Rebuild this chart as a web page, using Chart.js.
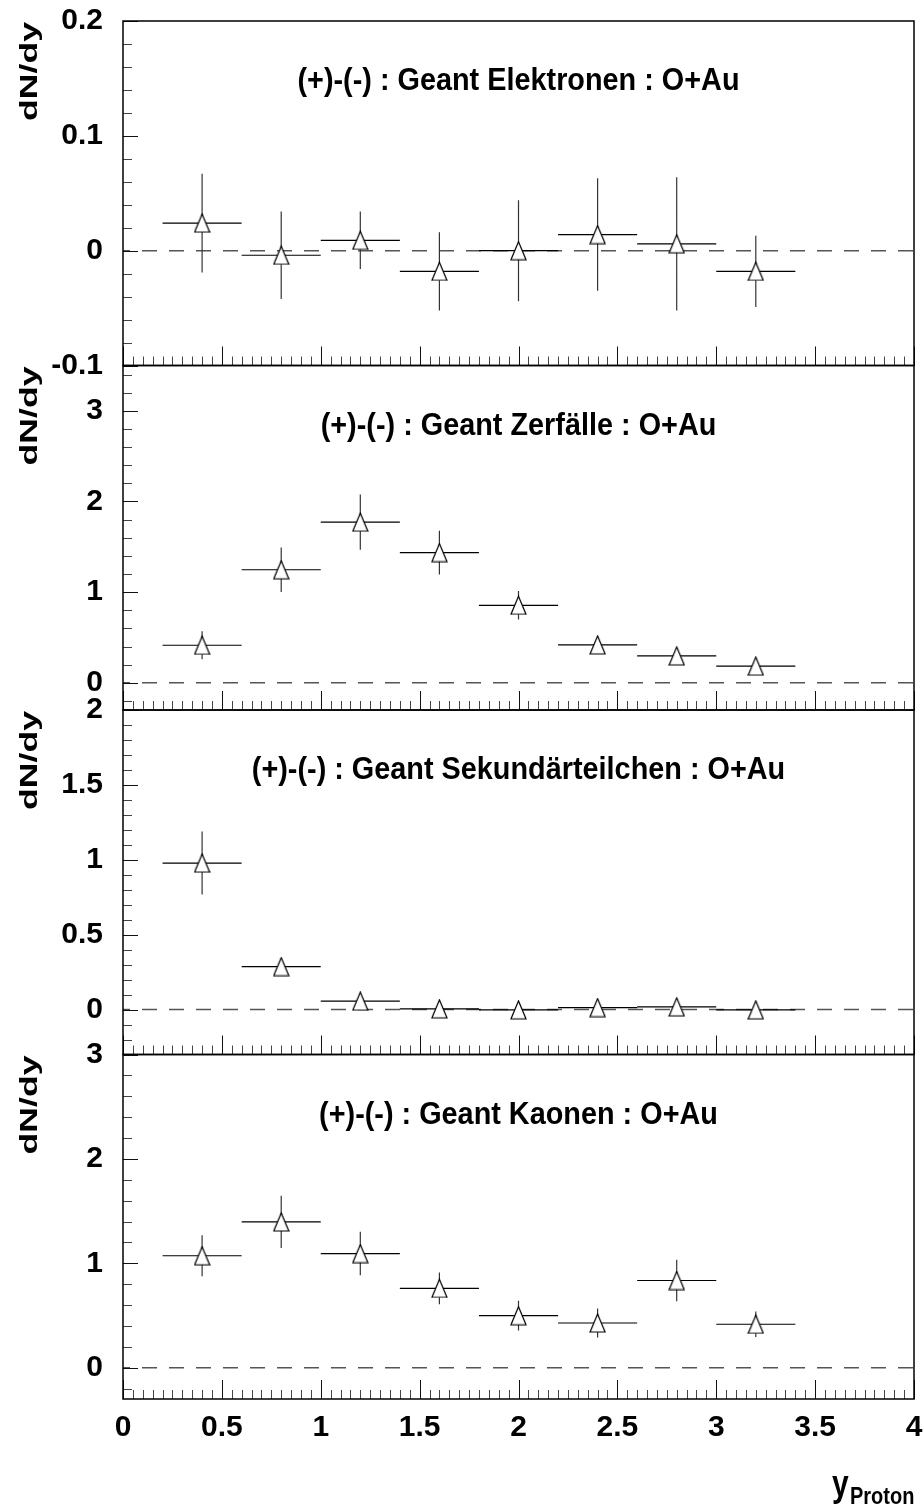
<!DOCTYPE html>
<html>
<head>
<meta charset="utf-8">
<script src="https://cdn.jsdelivr.net/npm/chart.js@4.4.1/dist/chart.umd.min.js"></script>
<style>
  html, body { margin: 0; padding: 0; background: #fff; overflow: hidden; }
  #wrap { position: relative; width: 924px; height: 1510px; }
  #wrap canvas { position: absolute; left: 0; top: 0; }
</style>
</head>
<body>
<div id="wrap">
  <canvas id="c1" width="924" height="1510"></canvas>
  <canvas id="c2" width="924" height="1510"></canvas>
  <canvas id="c3" width="924" height="1510"></canvas>
  <canvas id="c4" width="924" height="1510"></canvas>
</div>
<script>
// rapidity bins (centres), half bin width
var yBins = [0.4, 0.8, 1.2, 1.6, 2.0, 2.4, 2.8, 3.2];
var binHalf = 0.2;

// Geant Elektronen
var elekVal = [0.024, -0.004, 0.009, -0.018, 0.000, 0.014, 0.006, -0.018];
var elekErr = [0.043, 0.038, 0.025, 0.034, 0.044, 0.049, 0.058, 0.031];
// Geant Zerfaelle
var zerfVal = [0.414, 1.247, 1.772, 1.436, 0.855, 0.418, 0.297, 0.184];
var zerfErr = [0.155, 0.245, 0.305, 0.240, 0.157, 0.07, 0.06, 0.05];
// Geant Sekundaerteilchen
var sekVal = [0.978, 0.287, 0.056, 0.005, -0.002, 0.013, 0.018, -0.002];
var sekErr = [0.21, 0.04, 0.03, 0.02, 0.02, 0.02, 0.02, 0.02];
// Geant Kaonen
var kaonVal = [1.072, 1.396, 1.093, 0.760, 0.498, 0.428, 0.835, 0.416];
var kaonErr = [0.196, 0.250, 0.208, 0.152, 0.142, 0.138, 0.198, 0.122];

// tick labels
var xTicks = [0, 0.5, 1, 1.5, 2, 2.5, 3, 3.5, 4];
var elekTicks = [-0.1, 0, 0.1, 0.2];
var zerfTicks = [0, 1, 2, 3];
var sekTicks = [0, 0.5, 1, 1.5, 2];
var kaonTicks = [0, 1, 2, 3];

var FONT = '"Liberation Sans", Arial, Helvetica, sans-serif';

var panels = [
  { id: 'c1', title: '(+)-(-) : Geant Elektronen : O+Au', val: elekVal, err: elekErr,
    yMin: -0.1, yMax: 0.2, ticks: elekTicks, minor: 0.02, top: 21, bottom: 365.5 },
  { id: 'c2', title: '(+)-(-) : Geant Zerfälle : O+Au', val: zerfVal, err: zerfErr,
    yMin: -0.3, yMax: 3.5, ticks: zerfTicks, minor: 0.2, top: 365.5, bottom: 710 },
  { id: 'c3', title: '(+)-(-) : Geant Sekundärteilchen : O+Au', val: sekVal, err: sekErr,
    yMin: -0.3, yMax: 2.0, ticks: sekTicks, minor: 0.1, top: 710, bottom: 1054.5 },
  { id: 'c4', title: '(+)-(-) : Geant Kaonen : O+Au', val: kaonVal, err: kaonErr,
    yMin: -0.3, yMax: 3.0, ticks: kaonTicks, minor: 0.2, top: 1054.5, bottom: 1399, last: true }
];

function makeTriangle() {
  var c = document.createElement('canvas');
  c.width = 17; c.height = 20;
  var g = c.getContext('2d');
  g.beginPath();
  g.moveTo(8.5, 1);
  g.lineTo(16, 19);
  g.lineTo(1, 19);
  g.closePath();
  g.fillStyle = '#fff';
  g.fill();
  g.strokeStyle = '#000';
  g.lineWidth = 1.2;
  g.stroke();
  return c;
}
var triangle = makeTriangle();

function crisp(v) { return Math.round(v) + 0.5; }

// ROOT style frame, inner ticks and texts
var rootFrame = {
  id: 'rootFrame',
  afterDatasetsDraw: function(chart, args, opts) {
    var ctx = chart.ctx, a = chart.chartArea;
    var xs = chart.scales.x, ys = chart.scales.y;
    ctx.save();
    ctx.lineWidth = 1;

    // y ticks (left, pointing inwards)
    var k0 = Math.ceil(ys.min / opts.minor - 1e-6), k1 = Math.floor(ys.max / opts.minor + 1e-6);
    for (var k = k0; k <= k1; k++) {
      var v = k * opts.minor;
      var major = opts.major.some(function(m) { return Math.abs(m - v) < 1e-6; });
      var py = crisp(ys.getPixelForValue(v));
      ctx.strokeStyle = major ? '#111' : '#444';
      ctx.beginPath();
      ctx.moveTo(a.left, py);
      ctx.lineTo(a.left + (major ? 15 : 9), py);
      ctx.stroke();
    }
    // x ticks (bottom, pointing up)
    for (var j = 0; j <= 80; j++) {
      var xv = j * 0.05;
      var xmaj = xTicks.some(function(m) { return Math.abs(m - xv) < 1e-6; });
      var px = crisp(xs.getPixelForValue(xv));
      ctx.strokeStyle = xmaj ? '#111' : '#444';
      ctx.beginPath();
      ctx.moveTo(px, a.bottom);
      ctx.lineTo(px, a.bottom - (xmaj ? 19 : 9));
      ctx.stroke();
    }

    // frame
    ctx.strokeStyle = '#000';
    ctx.lineWidth = 1.5;
    ctx.strokeRect(a.left, a.top, a.right - a.left, a.bottom - a.top);

    ctx.fillStyle = '#000';
    // panel title (slightly condensed like the original Helvetica)
    ctx.save();
    ctx.translate((a.left + a.right) / 2, a.top + 69);
    ctx.scale(0.93, 1);
    ctx.font = 'bold 31px ' + FONT;
    ctx.textAlign = 'center';
    ctx.textBaseline = 'alphabetic';
    ctx.fillText(opts.title, 0, 0);
    ctx.restore();

    // y axis title (stretched along its length like the original)
    ctx.save();
    ctx.translate(31, a.top + 1);
    ctx.rotate(-Math.PI / 2);
    ctx.scale(1.55, 1);
    ctx.font = 'bold 23px ' + FONT;
    ctx.textAlign = 'right';
    ctx.textBaseline = 'middle';
    ctx.fillText('dN/dy', 0, 0);
    ctx.restore();

    // x axis title
    if (opts.last) {
      ctx.textAlign = 'left';
      ctx.textBaseline = 'alphabetic';
      ctx.save();
      ctx.translate(832, 1496);
      ctx.scale(1, 1.2);
      ctx.font = 'bold 30px ' + FONT;
      ctx.fillText('y', 0, 0);
      ctx.restore();
      ctx.save();
      ctx.translate(850, 1504);
      ctx.scale(1, 1.2);
      ctx.font = 'bold 20px ' + FONT;
      ctx.fillText('Proton', 0, 0);
      ctx.restore();
    }
    ctx.restore();
  }
};

function buildChart(p) {
  var hBars = [], vBars = [], points = [];
  for (var i = 0; i < yBins.length; i++) {
    var x = yBins[i], v = p.val[i], e = p.err[i];
    hBars.push({ x: x - binHalf, y: v }, { x: x + binHalf, y: v }, { x: x, y: null });
    vBars.push({ x: x, y: v - e }, { x: x, y: v + e }, { x: x, y: null });
    points.push({ x: x, y: v });
  }

  new Chart(document.getElementById(p.id), {
    type: 'line',
    data: {
      datasets: [
        {
          data: [{ x: 0, y: 0 }, { x: 4, y: 0 }],
          borderColor: '#555',
          borderWidth: 1.5,
          borderDash: [15, 12],
          borderDashOffset: 8,
          pointRadius: 0,
          order: 3
        },
        {
          data: hBars,
          borderColor: '#000',
          borderWidth: 1.2,
          pointRadius: 0,
          spanGaps: false,
          order: 2
        },
        {
          data: vBars,
          borderColor: '#333',
          borderWidth: 1.2,
          pointRadius: 0,
          spanGaps: false,
          order: 2
        },
        {
          data: points,
          showLine: false,
          pointStyle: triangle,
          pointRadius: 9,
          pointHoverRadius: 9,
          order: 1
        }
      ]
    },
    options: {
      responsive: false,
      animation: false,
      events: [],
      layout: { autoPadding: false, padding: { top: p.top, bottom: 0, left: 0, right: 10 } },
      plugins: {
        legend: { display: false },
        tooltip: { enabled: false },
        rootFrame: { title: p.title, major: p.ticks, minor: p.minor, last: !!p.last }
      },
      scales: {
        x: {
          type: 'linear',
          min: 0,
          max: 4,
          grid: { display: false, drawTicks: false },
          border: { display: false },
          afterBuildTicks: function(s) { s.ticks = xTicks.map(function(v) { return { value: v }; }); },
          afterFit: function(s) { s.height = 1510 - p.bottom; s.paddingLeft = 0; s.paddingRight = 0; },
          ticks: {
            display: !!p.last,
            padding: 11,
            maxRotation: 0,
            color: '#000',
            font: { family: FONT, size: 30, weight: 'bold' },
            callback: function(v) { return String(v); }
          }
        },
        y: {
          min: p.yMin,
          max: p.yMax,
          grid: { display: false, drawTicks: false },
          border: { display: false },
          afterBuildTicks: function(s) { s.ticks = p.ticks.map(function(v) { return { value: v }; }); },
          afterFit: function(s) { s.width = 123; s.paddingTop = 0; s.paddingBottom = 0; },
          ticks: {
            padding: 20,
            color: '#000',
            font: { family: FONT, size: 30, weight: 'bold' },
            callback: function(v) { return String(v); }
          }
        }
      }
    },
    plugins: [rootFrame]
  });
}

panels.forEach(buildChart);
</script>
</body>
</html>
